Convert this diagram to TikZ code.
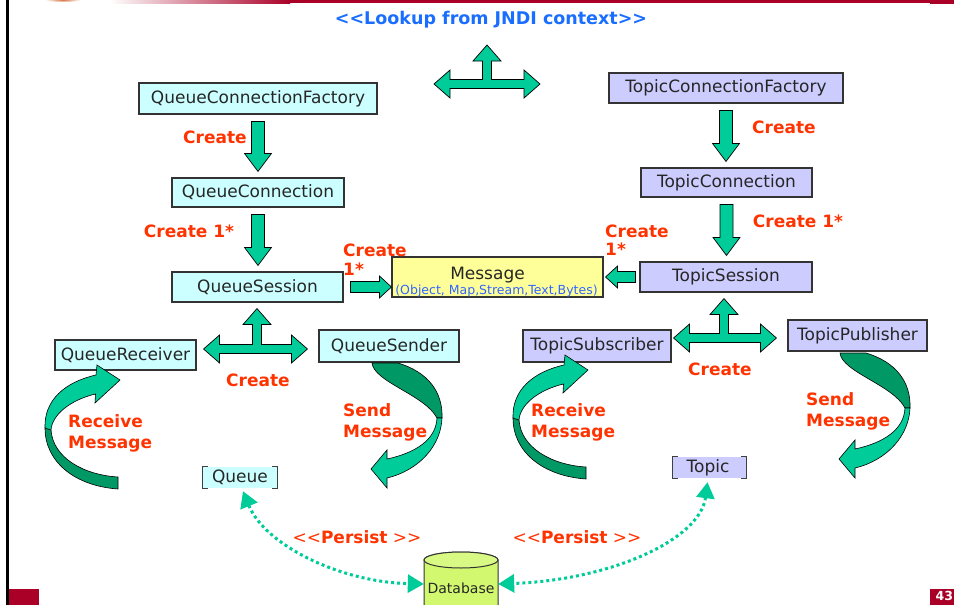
\documentclass[tikz,border=0pt]{standalone}
\usepackage{fontspec}
\setmainfont{DejaVu Sans}
\newfontfamily\djv{DejaVu Sans}
\usetikzlibrary{arrows.meta,calc}

\definecolor{cyanbox}{HTML}{CCFFFF}
\definecolor{lavbox}{HTML}{CCCCFF}
\definecolor{msgbox}{HTML}{FFFF99}
\definecolor{arrgreen}{HTML}{00CC99}
\definecolor{darkgreen}{HTML}{009966}
\definecolor{labred}{HTML}{FF3300}
\definecolor{titleblue}{HTML}{1A6EFF}
\definecolor{linkblue}{HTML}{3366FF}
\definecolor{slidered}{HTML}{AA0028}
\definecolor{dbgreen}{HTML}{D2F870}
\definecolor{logoorange}{HTML}{D8784A}

\newcommand\fsz[2]{\fontsize{#1}{#2}\selectfont}

% straight block arrows
\newcommand\downblk[2]{%
  \draw[blk] let \p1=(#1), \p2=(#2) in
    (\x1-6.5pt,\y1) -- (\x1+6.5pt,\y1) -- (\x1+6.5pt,\y2+18pt) -- (\x1+13.5pt,\y2+18pt)
    -- (\x1,\y2) -- (\x1-13.5pt,\y2+18pt) -- (\x1-6.5pt,\y2+18pt) -- cycle;}
\newcommand\rightblk[2]{%
  \draw[blk] let \p1=(#1), \p2=(#2) in
    (\x1,\y1+5.5pt) -- (\x2-12pt,\y1+5.5pt) -- (\x2-12pt,\y1+11pt) -- (\x2,\y1)
    -- (\x2-12pt,\y1-11pt) -- (\x2-12pt,\y1-5.5pt) -- (\x1,\y1-5.5pt) -- cycle;}
\newcommand\leftblk[2]{%
  \draw[blk] let \p1=(#1), \p2=(#2) in
    (\x1,\y1+5.5pt) -- (\x2+12pt,\y1+5.5pt) -- (\x2+12pt,\y1+11pt) -- (\x2,\y1)
    -- (\x2+12pt,\y1-11pt) -- (\x2+12pt,\y1-5.5pt) -- (\x1,\y1-5.5pt) -- cycle;}
% three-way block arrow: junction, upper tip, left tip, right tip
\newcommand\triblk[4]{%
  \draw[blk] let \p1=(#1), \p2=(#2), \p3=(#3), \p4=(#4) in
    (\x1-4.5pt,\y1+4.5pt) -- (\x1-4.5pt,\y2-16pt) -- (\x1-14pt,\y2-16pt) -- (\x1,\y2)
    -- (\x1+14pt,\y2-16pt) -- (\x1+4.5pt,\y2-16pt) -- (\x1+4.5pt,\y1+4.5pt)
    -- (\x4-16pt,\y1+4.5pt) -- (\x4-16pt,\y1+14pt) -- (\x4,\y1) -- (\x4-16pt,\y1-14pt)
    -- (\x4-16pt,\y1-4.5pt) -- (\x3+16pt,\y1-4.5pt) -- (\x3+16pt,\y1-14pt) -- (\x3,\y1)
    -- (\x3+16pt,\y1+14pt) -- (\x3+16pt,\y1+4.5pt) -- cycle;}

\tikzset{
  box/.style={draw=black!80, line width=1.1pt, inner sep=0pt, font=\djv\fsz{17}{20}, text=black!85},
  qbox/.style={box, fill=cyanbox},
  tbox/.style={box, fill=lavbox},
  lbl/.style={text=labred, font=\djv\bfseries\fsz{17}{21}, inner sep=0pt, align=left},
  blk/.style={fill=arrgreen, draw=black, line width=0.7pt, line join=miter},
  ribdark/.style={fill=darkgreen, draw=black, line width=0.6pt},
  riblight/.style={fill=arrgreen, draw=black, line width=0.6pt},
  brk/.style={draw=black!75, line width=1.1pt},
  persist/.style={draw=arrgreen, line width=3pt, dash pattern=on 3pt off 3pt,
    {Triangle[length=16pt,width=18pt]}-{Triangle[length=16pt,width=18pt]}},
  recvribbon/.pic={
    \path[ribdark] (45,428) .. controls (45,462) and (75,486) .. (118,489) -- (118,477)
      .. controls (84,475) and (53,458) .. (51,430) -- cycle;
    \path[riblight] (45,428) .. controls (44,400) and (65,382) .. (96,375) -- (97,365)
      -- (120,380) -- (95,403) -- (95.5,394) .. controls (70,400) and (52,415) .. (51,430) -- cycle;
  },
  sendribbon/.pic={
    \path[ribdark] (372,363) -- (398,363) .. controls (428,372) and (443,392) .. (442,418)
      -- (437,418) .. controls (425,395) and (374,382) .. (372,363) -- cycle;
    \path[riblight] (442,418) .. controls (441,445) and (420,470) .. (387,478) -- (387,488)
      -- (371,469) -- (387,450) -- (387,459) .. controls (415,453) and (436,440) .. (437,418) -- cycle;
  }
}

\begin{document}
\begin{tikzpicture}[x=1pt,y=-1pt]
\useasboundingbox (0,0) rectangle (954,605);
\clip (0,0) rectangle (954,605);
\fill[white] (0,0) rectangle (954,605);

% slide frame
\shade[left color=white, right color=slidered] (110,0) rectangle (290,3);
\fill[slidered] (290,0) rectangle (954,3);
\fill[slidered] (930,0) rectangle (954,4);
\shade[inner color=logoorange, outer color=white] (63,0) ellipse (18 and 2);
\fill[black] (6,0) rectangle (9,605);
\fill[slidered] (9,589) rectangle (39,605);
\fill[slidered] (930,589) rectangle (954,605);
\node[anchor=north west, inner sep=0pt, text=white, font=\djv\bfseries\fsz{12.5}{14}] (pgno) at (935.5,591.5) {43};

% title
\node[text=titleblue, font=\djv\bfseries\fsz{17.5}{20}] (title) at (491,20) {<<Lookup from JNDI context>>};

% boxes
\node[qbox, minimum width=238pt, minimum height=31pt] (qcf) at (258,98.5) {QueueConnectionFactory};
\node[tbox, minimum width=234pt, minimum height=30pt] (tcf) at (726,88) {TopicConnectionFactory};
\node[qbox, minimum width=172pt, minimum height=29pt] (qc) at (258,192.5) {QueueConnection};
\node[tbox, minimum width=171pt, minimum height=29pt] (tc) at (726.5,182.5) {TopicConnection};
\node[qbox, minimum width=171pt, minimum height=30pt] (qs) at (257.5,287) {QueueSession};
\node[tbox, minimum width=172pt, minimum height=30pt] (ts) at (726,277) {TopicSession};
\node[box, fill=msgbox, minimum width=211pt, minimum height=40pt] (msg) at (497.5,277) {};
\node[anchor=base, inner sep=0pt, font=\djv\fsz{17}{20}, text=black!85] (msgname)
  at ([xshift=-10pt,yshift=-23pt]msg.north) {Message};
\node[anchor=base, inner sep=0pt, font=\djv\fsz{12.5}{14}, text=linkblue] (msgkinds)
  at ([xshift=-1pt,yshift=3.5pt]msg.south) {(Object, Map,Stream,Text,Bytes)};
\node[qbox, minimum width=141pt, minimum height=30pt] (qr) at (125.5,355) {QueueReceiver};
\node[qbox, minimum width=140pt, minimum height=32pt] (qsend) at (389,346) {QueueSender};
\node[tbox, minimum width=148pt, minimum height=32pt] (tsub) at (597,346) {TopicSubscriber};
\node[tbox, minimum width=139pt, minimum height=31pt] (tpub) at (857.5,335.5) {TopicPublisher};

% destinations
\node[fill=cyanbox, inner sep=0pt, minimum width=74pt, minimum height=21pt,
  font=\djv\fsz{17}{20}, text=black!85] (queue) at (240,477.5) {Queue};
\node[fill=lavbox, inner sep=0pt, minimum width=73pt, minimum height=21pt,
  font=\djv\fsz{17}{20}, text=black!85] (topic) at (709.5,467.5) {Topic\,};
\foreach \d in {queue,topic}{
  \draw[brk] ([xshift=5pt]\d.north west) -- (\d.north west) -- (\d.south west) -- ([xshift=5pt]\d.south west);
  \draw[brk] ([xshift=-5pt]\d.north east) -- (\d.north east) -- (\d.south east) -- ([xshift=-5pt]\d.south east);
}

% database cylinder
\path[fill=dbgreen, draw=black!80, line width=1pt] (424,560) -- (424,620) -- (498,620) -- (498,560)
  arc[start angle=0, end angle=-180, x radius=37, y radius=8];
\path[fill=dbgreen!85!white, draw=black!80, line width=1pt] (461,560) ellipse (37 and 8);
\node[inner sep=0pt, minimum width=74pt, minimum height=20pt, font=\djv\fsz{14}{16}, text=black!85] (db) at (461,588) {Database};

% creation arrows
\downblk{[yshift=-7pt]qcf.south}{[yshift=6pt]qc.north}
\downblk{[yshift=-7pt]qc.south}{[yshift=6pt]qs.north}
\downblk{[yshift=-7pt]tcf.south}{[yshift=6pt]tc.north}
\downblk{[yshift=-7pt]tc.south}{[yshift=6pt]ts.north}
\rightblk{[xshift=7pt]qs.east}{msg.west}
\leftblk{[xshift=-4pt]ts.west}{[xshift=2pt]msg.east}

% three-way arrows
\coordinate (lkj) at (487,84);
\coordinate (lku) at (487,45);
\coordinate (lkl) at (434,84);
\coordinate (lkr) at (540,84);
\triblk{lkj}{lku}{lkl}{lkr}
\coordinate (qj) at (257,349);
\triblk{qj}{[yshift=-6pt]qs.south}{[xshift=7pt]qr.east}{[xshift=-11pt]qsend.west}
\coordinate (tj) at (724,338);
\triblk{tj}{[yshift=-6pt]ts.south}{[xshift=2pt]tsub.east}{[xshift=-11pt]tpub.west}

% receive / send ribbons
\pic at (0,0) {recvribbon};
\pic at (468,-10) {recvribbon};
\pic at (0,0) {sendribbon};
\pic at (468,-10) {sendribbon};

% persistence links
\draw[persist] ([xshift=3pt,yshift=-3pt]queue.south) .. controls (265,545) and (340,582) .. ([yshift=4pt]db.west);
\draw[persist] ([xshift=-2pt,yshift=-4pt]topic.south) .. controls (700,540) and (610,580) .. ([yshift=4pt]db.east);

% labels
\node[lbl] (c1) at (215,137) {Create};
\node[lbl] (c2) at (189,231) {Create 1*};
\node[lbl, anchor=west, font=\djv\bfseries\fsz{17}{19}] (c3) at (343,260) {Create\\1*};
\node[lbl, anchor=west, font=\djv\bfseries\fsz{17}{18}] (c4) at (605,240) {Create\\1*};
\node[lbl] (c5) at (784,127) {Create};
\node[lbl] (c6) at (798,221) {Create 1*};
\node[lbl] (c7) at (258,380) {Create};
\node[lbl] (c8) at (720,369) {Create};
\node[lbl, anchor=west] (r1) at (68,433.5) {Receive\\Message};
\node[lbl, anchor=west] (r2) at (531,422.5) {Receive\\Message};
\node[lbl, anchor=west] (s1) at (343,422) {Send\\Message};
\node[lbl, anchor=west] (s2) at (806,411) {Send\\Message};
\node[text=labred, inner sep=0pt, font=\djv\fsz{17}{20}] (p1) at (357,537) {<<\textbf{Persist} >>};
\node[text=labred, inner sep=0pt, font=\djv\fsz{17}{20}] (p2) at (577,537) {<<\textbf{Persist} >>};
\end{tikzpicture}
\end{document}
